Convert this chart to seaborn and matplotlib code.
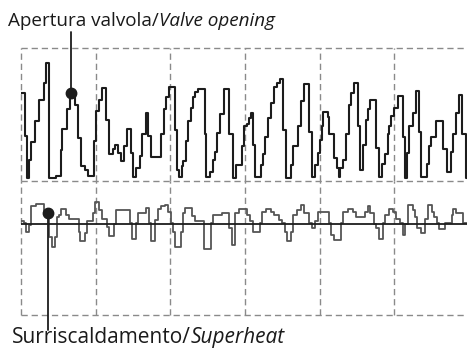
import numpy as np
import pandas as pd
import matplotlib
matplotlib.use("Agg")
import matplotlib.pyplot as plt
import seaborn as sns

# Valve opening (%) – step changes: time (s) and new value
valve_t = [0, 4, 6, 8, 10, 14, 18, 23, 25, 28, 35, 40, 41, 46, 49, 54, 57, 60, 64, 67,
           73, 75, 78, 81, 85, 88, 92, 94, 97, 100, 103, 106, 110, 112, 116, 120, 122, 126, 128, 131,
           141, 144, 146, 149, 155, 157, 159, 162, 163, 166, 168, 171, 173, 175, 178, 185, 186, 190, 193, 195,
           197, 200, 204, 209, 213, 216, 222, 224, 227, 229, 231, 233, 235, 241, 243, 245, 248, 251, 254, 257,
           260, 263, 266, 271, 273, 278, 281, 284, 289, 292, 295, 298, 300, 302, 303, 308, 309, 314, 317, 319,
           320, 323, 326, 329, 331, 334, 339, 341, 344, 347, 349, 351, 357, 360, 363, 366, 369, 370, 372, 375,
           379, 384, 386, 388, 390, 394, 397, 400, 402, 408, 410, 412, 417, 424, 428, 432, 434, 437, 440, 443,
           447]
valve_v = [66, 34, 2, 16, 29, 45, 61, 74, 89, 2, 4, 23, 39, 54, 66, 57, 32, 11, 8, 4,
           30, 53, 61, 70, 46, 20, 24, 27, 21, 15, 26, 39, 21, 3, 10, 19, 35, 51, 34, 18,
           35, 54, 63, 71, 38, 8, 3, 11, 15, 30, 45, 55, 63, 67, 69, 35, 3, 7, 16, 22,
           36, 50, 69, 35, 2, 12, 26, 41, 43, 47, 51, 27, 3, 12, 20, 33, 47, 59, 71, 74,
           77, 38, 2, 12, 26, 41, 60, 73, 37, 3, 12, 21, 31, 41, 52, 48, 35, 17, 10, 3,
           10, 16, 35, 57, 66, 74, 41, 8, 27, 46, 54, 61, 25, 3, 13, 20, 35, 41, 49, 55,
           64, 33, 2, 21, 41, 51, 68, 37, 3, 13, 26, 33, 45, 24, 7, 22, 35, 51, 65, 35,
           2]

# Superheat (K) – step changes: time (s) and new value
sh_t = [0, 3, 5, 8, 10, 15, 23, 28, 31, 34, 36, 38, 40, 45, 48, 58, 59, 64, 66, 72,
        74, 78, 81, 86, 88, 93, 95, 109, 111, 116, 118, 126, 129, 131, 135, 138, 141, 145, 148, 151,
        153, 155, 161, 163, 165, 172, 175, 178, 184, 191, 193, 202, 209, 212, 215, 219, 227, 230, 233, 240,
        242, 246, 251, 254, 259, 262, 265, 267, 271, 273, 277, 281, 284, 289, 292, 295, 298, 309, 311, 314,
        321, 323, 328, 333, 337, 346, 349, 351, 355, 357, 360, 364, 366, 370, 374, 377, 381, 384, 386, 389,
        394, 396, 398, 402, 406, 409, 413, 415, 418, 420, 426, 433, 434, 437, 444]
sh_v = [5.2, 5.1, 4.4, 4.9, 6.3, 6.5, 5.8, 4.0, 3.3, 4.0, 5.5, 5.7, 6.1, 5.7, 5.4, 4.4, 3.7, 4.3, 5.2, 5.8,
        6.6, 6.0, 5.4, 4.8, 4.1, 5.0, 6.0, 5.1, 3.9, 5.1, 5.8, 6.2, 5.1, 3.7, 5.3, 6.1, 6.3, 6.4, 5.9, 5.1,
        4.4, 3.3, 4.4, 5.8, 6.2, 5.6, 5.2, 5.2, 3.1, 5.1, 5.7, 5.8, 4.7, 3.4, 5.8, 6.1, 5.7, 5.2, 4.4, 5.1,
        5.9, 6.1, 5.9, 5.7, 5.3, 5.1, 4.4, 3.7, 4.4, 5.7, 6.0, 6.4, 5.8, 5.1, 4.7, 5.2, 5.9, 5.1, 4.2, 3.8,
        5.1, 5.9, 6.1, 5.9, 5.5, 5.9, 6.3, 5.8, 5.0, 4.7, 3.9, 5.1, 5.7, 6.1, 5.9, 5.4, 5.1, 4.2, 5.0, 6.4,
        6.0, 5.5, 4.7, 4.3, 5.4, 6.4, 5.9, 5.5, 5.1, 4.6, 5.1, 5.7, 6.1, 5.8, 5.1]
SETPOINT = 5.0

T_END = 448
valve_label = ("Apertura valvola/", "Valve opening")
sh_label = ("Surriscaldamento/", "Superheat")


def step_frame(t, v):
    # extend the last step to the end of the time window
    return pd.DataFrame({"t": list(t) + [T_END], "v": list(v) + [v[-1]]})


valve_df = step_frame(valve_t, valve_v)
sh_df = step_frame(sh_t, sh_v)

sns.set_theme(style="white")
plt.rcParams["font.family"] = ["Open Sans", "DejaVu Sans"]
plt.rcParams["lines.scale_dashes"] = False

W, H = 467, 353
fig = plt.figure(figsize=(W / 100, H / 100), dpi=100)
fig.patch.set_facecolor("white")

x0, x1 = 21 / W, 467 / W
ax_v = fig.add_axes([x0, 1 - 181 / H, x1 - x0, 133 / H])
ax_s = fig.add_axes([x0, 1 - 315 / H, x1 - x0, 134 / H])

grid_kw = dict(color="#8a8a8a", lw=1.0, dashes=(4.5, 2.8), clip_on=False, zorder=1)

for ax in (ax_v, ax_s):
    ax.set_xlim(0, T_END)
    for s in ax.spines.values():
        s.set_visible(False)
    ax.set_xticks([])
    ax.set_yticks([])
    ax.set_facecolor("none")
    for gx in range(0, T_END, 75):
        ax.axvline(gx, **grid_kw)

ax_v.set_ylim(0, 100)
ax_v.axhline(100, **grid_kw)
ax_v.axhline(0, **grid_kw)
ax_s.set_ylim(SETPOINT - 6.8, SETPOINT + 3.2)
ax_s.axhline(SETPOINT - 6.8, **grid_kw)

sns.lineplot(data=valve_df, x="t", y="v", ax=ax_v, drawstyle="steps-post",
             estimator=None, color="#1c1c1c", lw=1.5, zorder=3, legend=False)
sns.lineplot(data=sh_df, x="t", y="v", ax=ax_s, drawstyle="steps-post",
             estimator=None, color="#555555", lw=1.3, zorder=3, legend=False)
ax_s.axhline(SETPOINT, color="#1c1c1c", lw=1.3, zorder=4)
for ax in (ax_v, ax_s):
    ax.set_xlabel("")
    ax.set_ylabel("")

# callout markers with leader lines to the labels
tv = 50
vv = valve_v[np.searchsorted(valve_t, tv, side="right") - 1]
ax_v.plot([tv, tv], [vv, 112], color="#1c1c1c", lw=1.3, clip_on=False, zorder=5)
ax_v.plot([tv], [vv], "o", color="#1c1c1c", ms=7.5, clip_on=False, zorder=6)

ts = 27
sv = sh_v[np.searchsorted(sh_t, ts, side="right") - 1]
ax_s.plot([ts, ts], [sv, SETPOINT - 7.9], color="#1c1c1c", lw=1.3, clip_on=False, zorder=5)
ax_s.plot([ts], [sv], "o", color="#1c1c1c", ms=7.5, clip_on=False, zorder=6)


def two_part_label(x_px, base_px, parts, size):
    # regular prefix followed by an italic English term
    renderer = fig.canvas.get_renderer()
    t1 = fig.text(x_px / W, 1 - base_px / H, parts[0], fontsize=size, va="baseline",
                  ha="left", color="#1a1a1a")
    bb = t1.get_window_extent(renderer)
    fig.text(bb.x1 / W, 1 - base_px / H, parts[1], fontsize=size, va="baseline",
             ha="left", style="italic", color="#1a1a1a")


two_part_label(8, 26, valve_label, 13.6)
two_part_label(12, 343, sh_label, 15.0)

fig.savefig("out.png", dpi=100)
